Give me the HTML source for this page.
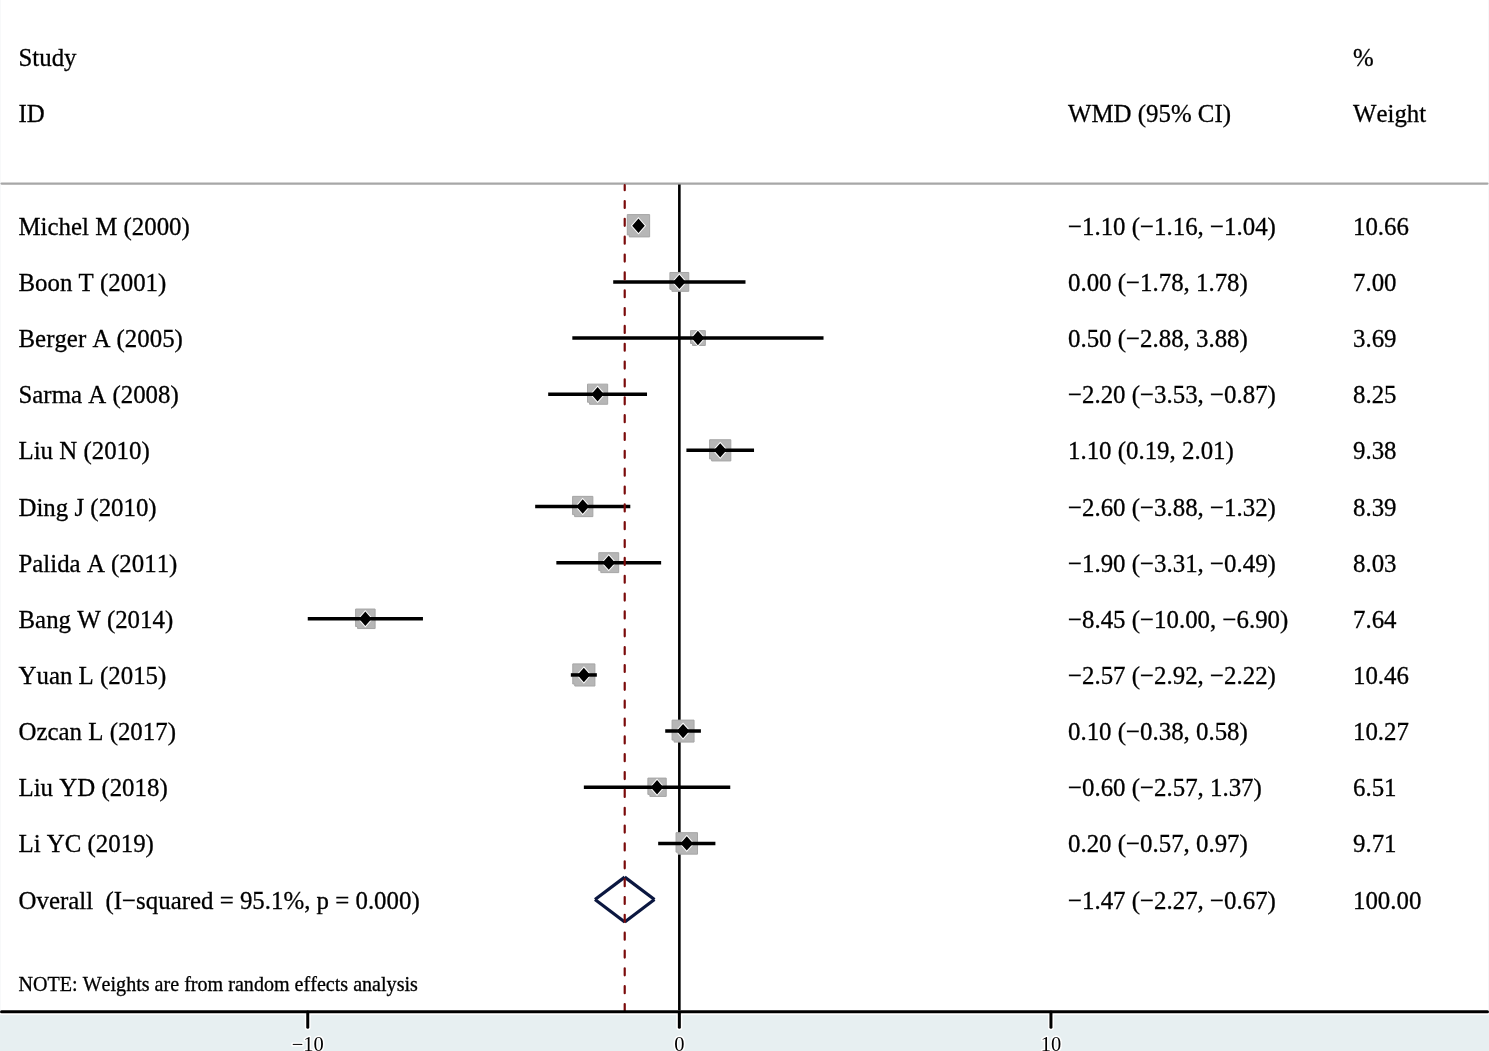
<!DOCTYPE html>
<html><head><meta charset="utf-8"><style>
html,body{margin:0;padding:0;background:#fff;}
body{width:1489px;height:1051px;overflow:hidden;position:relative;}
svg{position:absolute;left:0;top:0;will-change:transform;}
text{font-family:"Liberation Serif",serif;fill:#000;white-space:pre;font-kerning:none;}
.t,.s{stroke:#000;stroke-width:0.3px;}
.t{font-size:25px;}
.s{font-size:20.2px;}
.ax{font-size:20.5px;paint-order:stroke;stroke:#fff;stroke-width:3px;stroke-linejoin:round;}
</style></head><body>
<svg width="1489" height="1051" viewBox="0 0 1489 1051">
<rect x="0" y="0" width="1" height="1015" fill="#f8f9fa"/>
<rect x="1488" y="0" width="1" height="1015" fill="#f6f8fa"/>
<rect x="0" y="1015" width="1489" height="36" fill="#e7eff1"/>

<text class="t" transform="translate(18.5,66.30) scale(0.995,1.04)" xml:space="preserve">Study</text>
<text class="t" transform="translate(18.5,122.45) scale(0.995,1.04)" xml:space="preserve">ID</text>
<text class="t" transform="translate(1353.0,66.30) scale(0.995,1.04)" xml:space="preserve">%</text>
<text class="t" transform="translate(1068.0,122.45) scale(0.995,1.04)" xml:space="preserve">WMD (95% CI)</text>
<text class="t" transform="translate(1353.0,122.45) scale(0.995,1.04)" xml:space="preserve">Weight</text>
<line x1="1.5" y1="183.55" x2="1487.5" y2="183.55" stroke="#a7a7a7" stroke-width="2.2" stroke-linecap="round"/>
<line x1="679.35" y1="184.6" x2="679.35" y2="1011.8" stroke="#000" stroke-width="2.6"/>
<polygon points="627.31,214.59 649.63,214.59 649.63,236.91 629.31,236.91 629.31,234.91 627.31,234.91" fill="#b6b6b6" stroke="#a6a6a6" stroke-width="1"/>
<polygon points="669.92,272.47 688.78,272.47 688.78,291.33 671.92,291.33 671.92,289.33 669.92,289.33" fill="#b6b6b6" stroke="#a6a6a6" stroke-width="1"/>
<polygon points="690.52,330.64 705.34,330.64 705.34,345.46 692.52,345.46 692.52,343.46 690.52,343.46" fill="#b6b6b6" stroke="#a6a6a6" stroke-width="1"/>
<polygon points="587.53,384.14 607.66,384.14 607.66,404.26 589.53,404.26 589.53,402.26 587.53,402.26" fill="#b6b6b6" stroke="#a6a6a6" stroke-width="1"/>
<polygon points="709.63,439.76 730.82,439.76 730.82,460.94 711.63,460.94 711.63,458.94 709.63,458.94" fill="#b6b6b6" stroke="#a6a6a6" stroke-width="1"/>
<polygon points="572.60,496.37 592.87,496.37 592.87,516.63 574.60,516.63 574.60,514.63 572.60,514.63" fill="#b6b6b6" stroke="#a6a6a6" stroke-width="1"/>
<polygon points="598.79,552.69 618.70,552.69 618.70,572.61 600.79,572.61 600.79,570.61 598.79,570.61" fill="#b6b6b6" stroke="#a6a6a6" stroke-width="1"/>
<polygon points="355.59,609.04 375.11,609.04 375.11,628.56 357.59,628.56 357.59,626.56 355.59,626.56" fill="#b6b6b6" stroke="#a6a6a6" stroke-width="1"/>
<polygon points="572.78,663.88 594.92,663.88 594.92,686.02 574.78,686.02 574.78,684.02 572.78,684.02" fill="#b6b6b6" stroke="#a6a6a6" stroke-width="1"/>
<polygon points="672.07,720.11 694.06,720.11 694.06,742.09 674.07,742.09 674.07,740.09 672.07,740.09" fill="#b6b6b6" stroke="#a6a6a6" stroke-width="1"/>
<polygon points="647.89,778.08 666.22,778.08 666.22,796.42 649.89,796.42 649.89,794.42 647.89,794.42" fill="#b6b6b6" stroke="#a6a6a6" stroke-width="1"/>
<polygon points="676.04,832.66 697.53,832.66 697.53,854.14 678.04,854.14 678.04,852.14 676.04,852.14" fill="#b6b6b6" stroke="#a6a6a6" stroke-width="1"/>
<polygon points="638.47,218.55 644.77,225.75 638.47,232.95 632.17,225.75" fill="#fff" stroke="#fff" stroke-width="2.0" stroke-linejoin="miter"/>
<line x1="636.24" y1="225.75" x2="640.70" y2="225.75" stroke="#000" stroke-width="3.5" stroke-linecap="butt"/>
<polygon points="638.47,218.55 644.77,225.75 638.47,232.95 632.17,225.75" fill="#000"/>
<polygon points="679.35,274.70 685.65,281.90 679.35,289.10 673.05,281.90" fill="#fff" stroke="#fff" stroke-width="2.0" stroke-linejoin="miter"/>
<line x1="613.21" y1="281.90" x2="745.49" y2="281.90" stroke="#000" stroke-width="3.5" stroke-linecap="butt"/>
<polygon points="679.35,274.70 685.65,281.90 679.35,289.10 673.05,281.90" fill="#000"/>
<polygon points="697.93,330.85 704.23,338.05 697.93,345.25 691.63,338.05" fill="#fff" stroke="#fff" stroke-width="2.0" stroke-linejoin="miter"/>
<line x1="572.33" y1="338.05" x2="823.53" y2="338.05" stroke="#000" stroke-width="3.5" stroke-linecap="butt"/>
<polygon points="697.93,330.85 704.23,338.05 697.93,345.25 691.63,338.05" fill="#000"/>
<polygon points="597.60,387.00 603.90,394.20 597.60,401.40 591.30,394.20" fill="#fff" stroke="#fff" stroke-width="2.0" stroke-linejoin="miter"/>
<line x1="548.18" y1="394.20" x2="647.02" y2="394.20" stroke="#000" stroke-width="3.5" stroke-linecap="butt"/>
<polygon points="597.60,387.00 603.90,394.20 597.60,401.40 591.30,394.20" fill="#000"/>
<polygon points="720.23,443.15 726.53,450.35 720.23,457.55 713.93,450.35" fill="#fff" stroke="#fff" stroke-width="2.0" stroke-linejoin="miter"/>
<line x1="686.41" y1="450.35" x2="754.04" y2="450.35" stroke="#000" stroke-width="3.5" stroke-linecap="butt"/>
<polygon points="720.23,443.15 726.53,450.35 720.23,457.55 713.93,450.35" fill="#000"/>
<polygon points="582.73,499.30 589.03,506.50 582.73,513.70 576.43,506.50" fill="#fff" stroke="#fff" stroke-width="2.0" stroke-linejoin="miter"/>
<line x1="535.17" y1="506.50" x2="630.30" y2="506.50" stroke="#000" stroke-width="3.5" stroke-linecap="butt"/>
<polygon points="582.73,499.30 589.03,506.50 582.73,513.70 576.43,506.50" fill="#000"/>
<polygon points="608.75,555.45 615.05,562.65 608.75,569.85 602.45,562.65" fill="#fff" stroke="#fff" stroke-width="2.0" stroke-linejoin="miter"/>
<line x1="556.35" y1="562.65" x2="661.14" y2="562.65" stroke="#000" stroke-width="3.5" stroke-linecap="butt"/>
<polygon points="608.75,555.45 615.05,562.65 608.75,569.85 602.45,562.65" fill="#000"/>
<polygon points="365.35,611.60 371.65,618.80 365.35,626.00 359.05,618.80" fill="#fff" stroke="#fff" stroke-width="2.0" stroke-linejoin="miter"/>
<line x1="307.75" y1="618.80" x2="422.95" y2="618.80" stroke="#000" stroke-width="3.5" stroke-linecap="butt"/>
<polygon points="365.35,611.60 371.65,618.80 365.35,626.00 359.05,618.80" fill="#000"/>
<polygon points="583.85,667.75 590.15,674.95 583.85,682.15 577.55,674.95" fill="#fff" stroke="#fff" stroke-width="2.0" stroke-linejoin="miter"/>
<line x1="570.84" y1="674.95" x2="596.85" y2="674.95" stroke="#000" stroke-width="3.5" stroke-linecap="butt"/>
<polygon points="583.85,667.75 590.15,674.95 583.85,682.15 577.55,674.95" fill="#000"/>
<polygon points="683.07,723.90 689.37,731.10 683.07,738.30 676.77,731.10" fill="#fff" stroke="#fff" stroke-width="2.0" stroke-linejoin="miter"/>
<line x1="665.23" y1="731.10" x2="700.90" y2="731.10" stroke="#000" stroke-width="3.5" stroke-linecap="butt"/>
<polygon points="683.07,723.90 689.37,731.10 683.07,738.30 676.77,731.10" fill="#000"/>
<polygon points="657.05,780.05 663.35,787.25 657.05,794.45 650.75,787.25" fill="#fff" stroke="#fff" stroke-width="2.0" stroke-linejoin="miter"/>
<line x1="583.85" y1="787.25" x2="730.26" y2="787.25" stroke="#000" stroke-width="3.5" stroke-linecap="butt"/>
<polygon points="657.05,780.05 663.35,787.25 657.05,794.45 650.75,787.25" fill="#000"/>
<polygon points="686.78,836.20 693.08,843.40 686.78,850.60 680.48,843.40" fill="#fff" stroke="#fff" stroke-width="2.0" stroke-linejoin="miter"/>
<line x1="658.17" y1="843.40" x2="715.40" y2="843.40" stroke="#000" stroke-width="3.5" stroke-linecap="butt"/>
<polygon points="686.78,836.20 693.08,843.40 686.78,850.60 680.48,843.40" fill="#000"/>
<line x1="595.00" y1="899.55" x2="624.72" y2="877.15" stroke="#0b1740" stroke-width="3.2"/>
<line x1="624.72" y1="877.15" x2="654.45" y2="899.55" stroke="#0b1740" stroke-width="3.2"/>
<line x1="654.45" y1="899.55" x2="624.72" y2="921.95" stroke="#0b1740" stroke-width="3.2"/>
<line x1="624.72" y1="921.95" x2="595.00" y2="899.55" stroke="#0b1740" stroke-width="3.2"/>
<line x1="624.72" y1="185.2" x2="624.72" y2="1011" stroke="#7a0a0a" stroke-width="2.2" stroke-dasharray="7 10.846" stroke-dashoffset="2.05" stroke-linecap="round"/>
<line x1="307.75" y1="1013" x2="307.75" y2="1027.2" stroke="#fff" stroke-width="6" stroke-linecap="round"/>
<line x1="679.35" y1="1013" x2="679.35" y2="1027.2" stroke="#fff" stroke-width="6" stroke-linecap="round"/>
<line x1="1050.95" y1="1013" x2="1050.95" y2="1027.2" stroke="#fff" stroke-width="6" stroke-linecap="round"/>
<line x1="1.5" y1="1011.75" x2="1487.5" y2="1011.75" stroke="#000" stroke-width="3" stroke-linecap="round"/>
<line x1="307.75" y1="1012" x2="307.75" y2="1027.2" stroke="#000" stroke-width="3" stroke-linecap="round"/>
<text class="ax" x="307.75" y="1051.0" text-anchor="middle">−10</text>
<line x1="679.35" y1="1012" x2="679.35" y2="1027.2" stroke="#000" stroke-width="3" stroke-linecap="round"/>
<text class="ax" x="679.35" y="1051.0" text-anchor="middle">0</text>
<line x1="1050.95" y1="1012" x2="1050.95" y2="1027.2" stroke="#000" stroke-width="3" stroke-linecap="round"/>
<text class="ax" x="1050.95" y="1051.0" text-anchor="middle">10</text>
<text class="t" transform="translate(18.5,234.75) scale(0.995,1.04)" xml:space="preserve">Michel M (2000)</text>
<text class="t" transform="translate(1068.0,234.75) scale(0.995,1.04)" xml:space="preserve">−1.10 (−1.16, −1.04)</text>
<text class="t" transform="translate(1353.0,234.75) scale(0.995,1.04)" xml:space="preserve">10.66</text>
<text class="t" transform="translate(18.5,290.90) scale(0.995,1.04)" xml:space="preserve">Boon T (2001)</text>
<text class="t" transform="translate(1068.0,290.90) scale(0.995,1.04)" xml:space="preserve">0.00 (−1.78, 1.78)</text>
<text class="t" transform="translate(1353.0,290.90) scale(0.995,1.04)" xml:space="preserve">7.00</text>
<text class="t" transform="translate(18.5,347.05) scale(0.995,1.04)" xml:space="preserve">Berger A (2005)</text>
<text class="t" transform="translate(1068.0,347.05) scale(0.995,1.04)" xml:space="preserve">0.50 (−2.88, 3.88)</text>
<text class="t" transform="translate(1353.0,347.05) scale(0.995,1.04)" xml:space="preserve">3.69</text>
<text class="t" transform="translate(18.5,403.20) scale(0.995,1.04)" xml:space="preserve">Sarma A (2008)</text>
<text class="t" transform="translate(1068.0,403.20) scale(0.995,1.04)" xml:space="preserve">−2.20 (−3.53, −0.87)</text>
<text class="t" transform="translate(1353.0,403.20) scale(0.995,1.04)" xml:space="preserve">8.25</text>
<text class="t" transform="translate(18.5,459.35) scale(0.995,1.04)" xml:space="preserve">Liu N (2010)</text>
<text class="t" transform="translate(1068.0,459.35) scale(0.995,1.04)" xml:space="preserve">1.10 (0.19, 2.01)</text>
<text class="t" transform="translate(1353.0,459.35) scale(0.995,1.04)" xml:space="preserve">9.38</text>
<text class="t" transform="translate(18.5,515.50) scale(0.995,1.04)" xml:space="preserve">Ding J (2010)</text>
<text class="t" transform="translate(1068.0,515.50) scale(0.995,1.04)" xml:space="preserve">−2.60 (−3.88, −1.32)</text>
<text class="t" transform="translate(1353.0,515.50) scale(0.995,1.04)" xml:space="preserve">8.39</text>
<text class="t" transform="translate(18.5,571.65) scale(0.995,1.04)" xml:space="preserve">Palida A (2011)</text>
<text class="t" transform="translate(1068.0,571.65) scale(0.995,1.04)" xml:space="preserve">−1.90 (−3.31, −0.49)</text>
<text class="t" transform="translate(1353.0,571.65) scale(0.995,1.04)" xml:space="preserve">8.03</text>
<text class="t" transform="translate(18.5,627.80) scale(0.995,1.04)" xml:space="preserve">Bang W (2014)</text>
<text class="t" transform="translate(1068.0,627.80) scale(0.995,1.04)" xml:space="preserve">−8.45 (−10.00, −6.90)</text>
<text class="t" transform="translate(1353.0,627.80) scale(0.995,1.04)" xml:space="preserve">7.64</text>
<text class="t" transform="translate(18.5,683.95) scale(0.995,1.04)" xml:space="preserve">Yuan L (2015)</text>
<text class="t" transform="translate(1068.0,683.95) scale(0.995,1.04)" xml:space="preserve">−2.57 (−2.92, −2.22)</text>
<text class="t" transform="translate(1353.0,683.95) scale(0.995,1.04)" xml:space="preserve">10.46</text>
<text class="t" transform="translate(18.5,740.10) scale(0.995,1.04)" xml:space="preserve">Ozcan L (2017)</text>
<text class="t" transform="translate(1068.0,740.10) scale(0.995,1.04)" xml:space="preserve">0.10 (−0.38, 0.58)</text>
<text class="t" transform="translate(1353.0,740.10) scale(0.995,1.04)" xml:space="preserve">10.27</text>
<text class="t" transform="translate(18.5,796.25) scale(0.995,1.04)" xml:space="preserve">Liu YD (2018)</text>
<text class="t" transform="translate(1068.0,796.25) scale(0.995,1.04)" xml:space="preserve">−0.60 (−2.57, 1.37)</text>
<text class="t" transform="translate(1353.0,796.25) scale(0.995,1.04)" xml:space="preserve">6.51</text>
<text class="t" transform="translate(18.5,852.40) scale(0.995,1.04)" xml:space="preserve">Li YC (2019)</text>
<text class="t" transform="translate(1068.0,852.40) scale(0.995,1.04)" xml:space="preserve">0.20 (−0.57, 0.97)</text>
<text class="t" transform="translate(1353.0,852.40) scale(0.995,1.04)" xml:space="preserve">9.71</text>
<text class="t" transform="translate(18.5,908.55) scale(0.995,1.04)" xml:space="preserve">Overall  (I−squared = 95.1%, p = 0.000)</text>
<text class="t" transform="translate(1068.0,908.55) scale(0.995,1.04)" xml:space="preserve">−1.47 (−2.27, −0.67)</text>
<text class="t" transform="translate(1353.0,908.55) scale(0.995,1.04)" xml:space="preserve">100.00</text>
<text class="s" transform="translate(18.5,990.90) scale(0.995,1.04)" xml:space="preserve">NOTE: Weights are from random effects analysis</text>
</svg></body></html>
